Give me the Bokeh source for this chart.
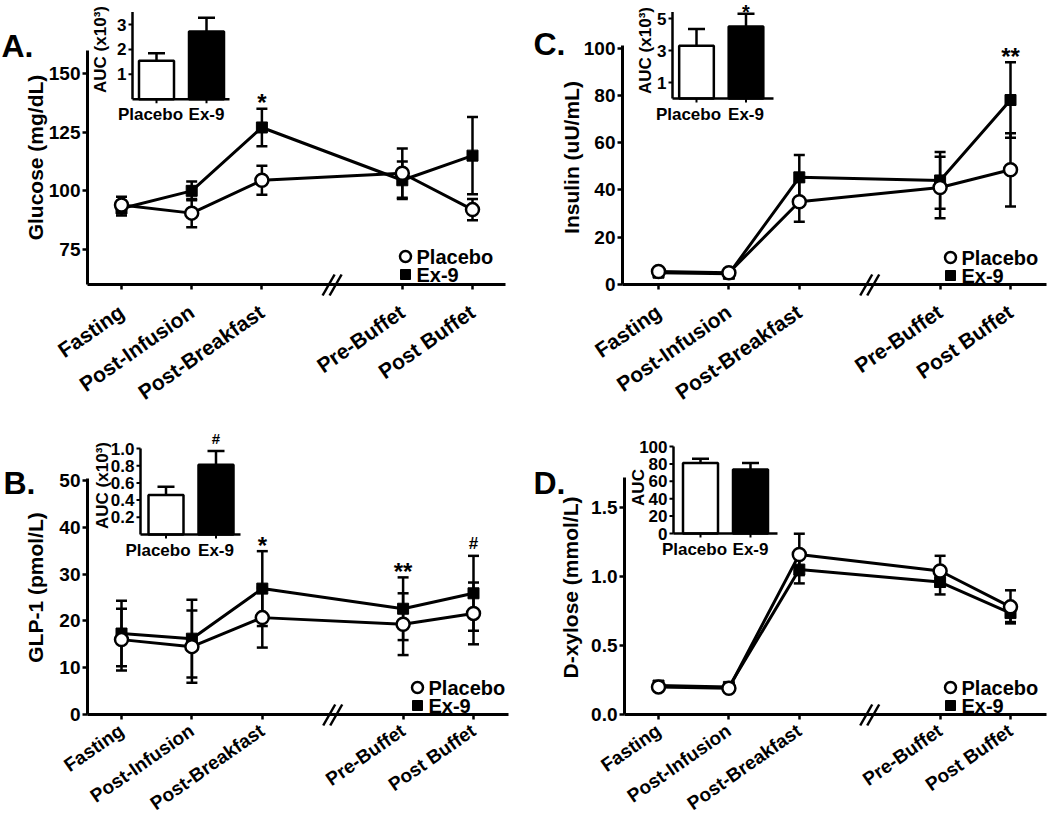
import math
from bokeh.plotting import figure
from bokeh.models import Range1d, FixedTicker, PrintfTickFormatter
from bokeh.layouts import row, column
from bokeh.embed import file_html
from bokeh.resources import INLINE
from bokeh.core.properties import value

FONT = "Liberation Sans"

# ---------------- data ----------------
categories = ["Fasting", "Post-Infusion", "Post-Breakfast", "Pre-Buffet", "Post Buffet"]
groups = ["Placebo", "Ex-9"]

# A. Glucose (mg/dL)
glucose_placebo = [94.0, 90.5, 104.5, 107.5, 92.0]
glucose_placebo_sem = [3.5, 6.0, 6.2, 10.5, 4.5]
glucose_ex9 = [92.5, 100.0, 127.0, 104.5, 115.0]
glucose_ex9_sem = [3.0, 4.0, 8.0, 8.0, 16.5]
glucose_sig = ["", "", "*", "", ""]
glucose_ticks = [75, 100, 125, 150]
glucose_auc = [1.55, 2.72]
glucose_auc_sem = [0.30, 0.55]
glucose_auc_sig = ["", ""]
glucose_auc_ticks = [1, 2, 3]
glucose_auc_tick_labels = ["1", "2", "3"]

# B. GLP-1 (pmol/L)
glp1_placebo = [16.0, 14.5, 20.7, 19.3, 21.6]
glp1_placebo_sem = [6.6, 7.7, 6.4, 6.6, 6.6]
glp1_ex9 = [17.3, 16.2, 26.9, 22.6, 25.9]
glp1_ex9_sem = [7.0, 8.3, 8.0, 6.7, 8.0]
glp1_sig = ["", "", "*", "**", "#"]
glp1_ticks = [0, 10, 20, 30, 40, 50]
glp1_auc = [0.46, 0.81]
glp1_auc_sem = [0.095, 0.16]
glp1_auc_sig = ["", "#"]
glp1_auc_ticks = [0.2, 0.4, 0.6, 0.8, 1.0]
glp1_auc_tick_labels = ["0.2", "0.4", "0.6", "0.8", "1.0"]

# C. Insulin (uU/mL)
insulin_placebo = [5.5, 5.0, 35.0, 41.0, 48.5]
insulin_placebo_sem = [1.0, 1.0, 8.5, 13.0, 15.5]
insulin_ex9 = [5.0, 4.5, 45.3, 44.0, 78.0]
insulin_ex9_sem = [0.8, 0.8, 9.5, 12.0, 16.0]
insulin_sig = ["", "", "", "", "**"]
insulin_ticks = [0, 20, 40, 60, 80, 100]
insulin_auc = [3.3, 4.5]
insulin_auc_sem = [1.05, 0.8]
insulin_auc_sig = ["", "*"]
insulin_auc_ticks = [1, 3, 5]
insulin_auc_tick_labels = ["1", "3", "5"]

# D. D-xylose (mmol/L)
xylose_placebo = [0.20, 0.19, 1.16, 1.04, 0.78]
xylose_placebo_sem = [0.02, 0.02, 0.15, 0.11, 0.12]
xylose_ex9 = [0.21, 0.20, 1.05, 0.96, 0.735]
xylose_ex9_sem = [0.02, 0.02, 0.10, 0.09, 0.065]
xylose_sig = ["", "", "", "", ""]
xylose_ticks = [0.0, 0.5, 1.0, 1.5]
xylose_auc = [81.0, 73.5]
xylose_auc_sem = [5.0, 7.5]
xylose_auc_sig = ["", ""]
xylose_auc_ticks = [0, 20, 40, 60, 80, 100]
xylose_auc_tick_labels = ["0", "20", "40", "60", "80", "100"]

# x positions with an axis break after the 3rd time point
BREAK_AFTER = 3
x_pos = [i + 1 + (1 if i >= BREAK_AFTER else 0) for i in range(len(categories))]
break_x = BREAK_AFTER + 1


def cal(v0, p0, v1, p1):
    k = (p1 - p0) / (v1 - v0)
    return (lambda px: v0 + (px - p0) / k), (lambda v: p0 + (v - v0) * k), k


def txt(**kw):
    d = dict(text_font=value(FONT), text_font_style="bold", text_color="black")
    d.update(kw)
    return d


def build_panel(letter, ylabel, pla, pla_sem, ex9, ex9_sem, sig, yticks,
                auc, auc_sem, auc_sig, auc_ticks, auc_tick_labels, auc_label, cfg):
    X0, X1, Y0, Y1 = cfg["box"]          # figure box in page pixels
    AL, AR, AB = cfg["axes"]             # y-axis x, x-axis right end, x-axis y (pixels)
    xv, xp, kx = cal(*cfg["xcal"])
    yv, yp, ky = cal(*cfg["ycal"])
    ic = cfg["inset"]
    ixv, ixp, ikx = cal(*ic["xcal"])
    iyv, iyp, iky = cal(*ic["ycal"])
    p = figure(width=X1 - X0, height=Y1 - Y0, output_backend="svg", toolbar_location=None,
               x_range=Range1d(xv(X0), xv(X1)), y_range=Range1d(yv(Y1), yv(Y0)),
               min_border_left=0, min_border_right=0, min_border_top=0, min_border_bottom=0)
    p.extra_x_ranges = {"sx": Range1d(X0, X1), "ix": Range1d(ixv(X0), ixv(X1))}
    p.extra_y_ranges = {"sy": Range1d(Y1, Y0), "iy": Range1d(iyv(Y1), iyv(Y0))}
    p.outline_line_color = None
    p.grid.visible = False

    xa = p.xaxis[0]
    ya = p.yaxis[0]
    xa.fixed_location = yv(AB)
    ya.fixed_location = xv(AL)
    xa.bounds = (xv(AL), xv(AR))
    ya.bounds = (yv(AB), cfg["ytop"])
    xa.ticker = FixedTicker(ticks=x_pos)
    xa.major_label_overrides = {x: c for x, c in zip(x_pos, categories)}
    xa.major_label_orientation = 0.61
    xa.major_label_text_font_size = cfg["xfs"]
    xa.major_label_standoff = cfg["xstand"]
    ya.ticker = FixedTicker(ticks=yticks)
    ya.major_label_text_font_size = "19px"
    ya.major_label_standoff = 2
    if cfg.get("fmt"):
        ya.formatter = PrintfTickFormatter(format=cfg["fmt"])
    for ax in (xa, ya):
        ax.axis_line_width = 3
        ax.axis_line_color = "black"
        ax.major_tick_line_width = 2.5
        ax.major_tick_line_color = "black"
        ax.major_tick_out = 5
        ax.major_tick_in = 0
        ax.minor_tick_line_color = None
        ax.major_label_text_font = FONT
        ax.major_label_text_font_style = "bold"
        ax.major_label_text_color = "black"

    skw = dict(x_range_name="sx", y_range_name="sy")

    # ---- axis break ----
    bx = xp(break_x)
    p.segment(x0=[bx - 9.5, bx - 2.5], y0=[AB + 11, AB + 11], x1=[bx + 2.5, bx + 9.5],
              y1=[AB - 10, AB - 10], line_width=2.5, color="black", **skw)

    # ---- main series ----
    xs = list(x_pos)
    p.line(xs, ex9, line_width=3, color="black")
    p.line(xs, pla, line_width=3, color="black")
    for v, e in ((ex9, ex9_sem), (pla, pla_sem)):
        lo = [a - b for a, b in zip(v, e)]
        hi = [a + b for a, b in zip(v, e)]
        p.segment(x0=xs, y0=lo, x1=xs, y1=hi, line_width=2.5, color="black")
        p.scatter(xs + xs, lo + hi, marker="dash", size=11, line_width=2.5, color="black")
    p.scatter(xs, ex9, marker="square", size=11, color="black")
    p.scatter(xs, pla, marker="circle", size=13, fill_color="white",
              line_color="black", line_width=2.5)
    star_y = [max(a + b, c + d) for a, b, c, d in zip(ex9, ex9_sem, pla, pla_sem)]
    p.text(xs, star_y, text=sig,
           y_offset=[-6 if s.startswith("*") else -12 for s in sig],
           **txt(text_align="center", text_baseline="alphabetic",
                 text_font_size=["24px" if s.startswith("*") else "17px" for s in sig]))

    # ---- legend ----
    lx, ly1, ly2 = cfg["legend"]
    p.scatter([lx], [ly1], marker="circle", size=11, fill_color="white",
              line_color="black", line_width=2.5, **skw)
    p.scatter([lx], [ly2], marker="square", size=10, color="black", **skw)
    p.text([lx + 11, lx + 11], [ly1, ly2], text=groups,
           **txt(text_baseline="middle", text_align="left", text_font_size="20px"), **skw)

    # ---- panel letter & y title ----
    p.text([cfg["letter"][0]], [cfg["letter"][1]], text=[letter],
           **txt(text_baseline="alphabetic", text_align="left", text_font_size="32px"), **skw)
    p.text([cfg["ytitle"][0]], [cfg["ytitle"][1]], text=[ylabel], angle=math.pi / 2,
           **txt(text_baseline="middle", text_align="center", text_font_size="21px"), **skw)

    # ---- inset AUC bar chart ----
    ikw = dict(x_range_name="ix", y_range_name="iy")
    cx = [1, 2]
    ax_x = ixv(ic["axis_px"])
    right_x = ixv(ic["right_px"])
    p.vbar(x=cx, top=auc, bottom=0, width=0.7, fill_color=["white", "black"],
           line_color="black", line_width=2.5, **ikw)
    hi = [a + b for a, b in zip(auc, auc_sem)]
    p.segment(x0=cx, y0=auc, x1=cx, y1=hi, line_width=2.5, color="black", **ikw)
    p.scatter(cx, hi, marker="dash", size=17, line_width=2.5, color="black", **ikw)
    p.segment(x0=[ax_x, ax_x], y0=[0, 0], x1=[ax_x, right_x], y1=[ic["ytop"], 0],
              line_width=2.5, color="black", **ikw)
    n = len(auc_ticks)
    tl = 4 / ikx
    p.segment(x0=[ax_x - tl] * n, y0=auc_ticks, x1=[ax_x] * n, y1=auc_ticks,
              line_width=2, color="black", **ikw)
    tdy = 4 / abs(iky)
    p.segment(x0=cx, y0=[0, 0], x1=cx, y1=[-tdy, -tdy], line_width=2, color="black", **ikw)
    p.text([ax_x] * n, auc_ticks, text=auc_tick_labels, x_offset=-6,
           **txt(text_align="right", text_baseline="middle", text_font_size="17px"), **ikw)
    p.text(cx, [0, 0], text=groups, x_offset=ic["cat_dx"], y_offset=6,
           **txt(text_align="center", text_baseline="top", text_font_size="17px"), **ikw)
    p.text([ixv(ic["label_px"][0])], [iyv(ic["label_px"][1])], text=[auc_label],
           angle=math.pi / 2,
           **txt(text_align="center", text_baseline="middle", text_font_size="17px"), **ikw)
    p.text(cx, hi, text=auc_sig, y_offset=ic["sig_dy"],
           **txt(text_align="center", text_baseline="alphabetic",
                 text_font_size=["20px" if s.startswith("*") else "15px" for s in auc_sig]),
           **ikw)
    return p


cfgA = dict(box=(0, 510, 0, 410), axes=(87, 505, 284),
            xcal=(1, 121, 6, 472), ycal=(75, 249, 150, 73), ytop=160, xfs="21px", xstand=20,
            legend=(405, 256, 274), letter=(1, 45), ytitle=(35, 157),
            inset=dict(xcal=(1, 156, 2, 206), ycal=(0, 98.8, 3, 24), axis_px=132, right_px=229,
                       ytop=3.5, label_px=(100, 49), cat_dx=[-6, 0], sig_dy=-2))
cfgB = dict(box=(0, 510, 410, 820), axes=(87, 508, 714),
            xcal=(1, 121, 6, 473), ycal=(0, 714, 50, 480), ytop=50.5, xfs="19px", xstand=9,
            legend=(417, 687, 705), letter=(3, 482), ytitle=(35, 587),
            inset=dict(xcal=(1, 165.5, 2, 215.5), ycal=(0, 534, 1, 448), axis_px=140, right_px=240,
                       ytop=1.0, label_px=(102, 485), cat_dx=[-8, 0], sig_dy=-13))
cfgC = dict(box=(510, 1048, 0, 410), axes=(622, 1046, 284),
            xcal=(1, 658, 6, 1010), ycal=(0, 284, 100, 47.5), ytop=101, xfs="21px", xstand=20,
            legend=(950, 257, 275), letter=(533, 43), ytitle=(571, 157),
            inset=dict(xcal=(1, 696, 2, 745.5), ycal=(0, 98, 5, 18), axis_px=672, right_px=773,
                       ytop=5.4, label_px=(645, 50), cat_dx=[-8, 0], sig_dy=-2))
cfgD = dict(box=(510, 1048, 410, 820), axes=(624, 1046, 714),
            xcal=(1, 658, 6, 1010), ycal=(0, 714, 1.5, 507), ytop=1.72, xfs="19px", xstand=9,
            legend=(950, 687, 705), letter=(533, 482), ytitle=(570, 587), fmt="%.1f",
            inset=dict(xcal=(1, 700, 2, 750), ycal=(0, 533, 100, 446), axis_px=673, right_px=777,
                       ytop=100, label_px=(638, 487), cat_dx=[-6, 0], sig_dy=-2))

pA = build_panel("A.", "Glucose (mg/dL)", glucose_placebo, glucose_placebo_sem, glucose_ex9,
                 glucose_ex9_sem, glucose_sig, glucose_ticks, glucose_auc, glucose_auc_sem,
                 glucose_auc_sig, glucose_auc_ticks, glucose_auc_tick_labels, "AUC (x10\u00b3)", cfgA)
pB = build_panel("B.", "GLP-1 (pmol/L)", glp1_placebo, glp1_placebo_sem, glp1_ex9, glp1_ex9_sem,
                 glp1_sig, glp1_ticks, glp1_auc, glp1_auc_sem, glp1_auc_sig, glp1_auc_ticks,
                 glp1_auc_tick_labels, "AUC (x10\u00b3)", cfgB)
pC = build_panel("C.", "Insulin (uU/mL)", insulin_placebo, insulin_placebo_sem, insulin_ex9,
                 insulin_ex9_sem, insulin_sig, insulin_ticks, insulin_auc, insulin_auc_sem,
                 insulin_auc_sig, insulin_auc_ticks, insulin_auc_tick_labels, "AUC (x10\u00b3)", cfgC)
pD = build_panel("D.", "D-xylose (mmol/L)", xylose_placebo, xylose_placebo_sem, xylose_ex9,
                 xylose_ex9_sem, xylose_sig, xylose_ticks, xylose_auc, xylose_auc_sem,
                 xylose_auc_sig, xylose_auc_ticks, xylose_auc_tick_labels, "AUC", cfgD)

layout = column(row(pA, pC), row(pB, pD))
open("out.html", "w").write(file_html(layout, INLINE, title="Ex-9 figure"))
